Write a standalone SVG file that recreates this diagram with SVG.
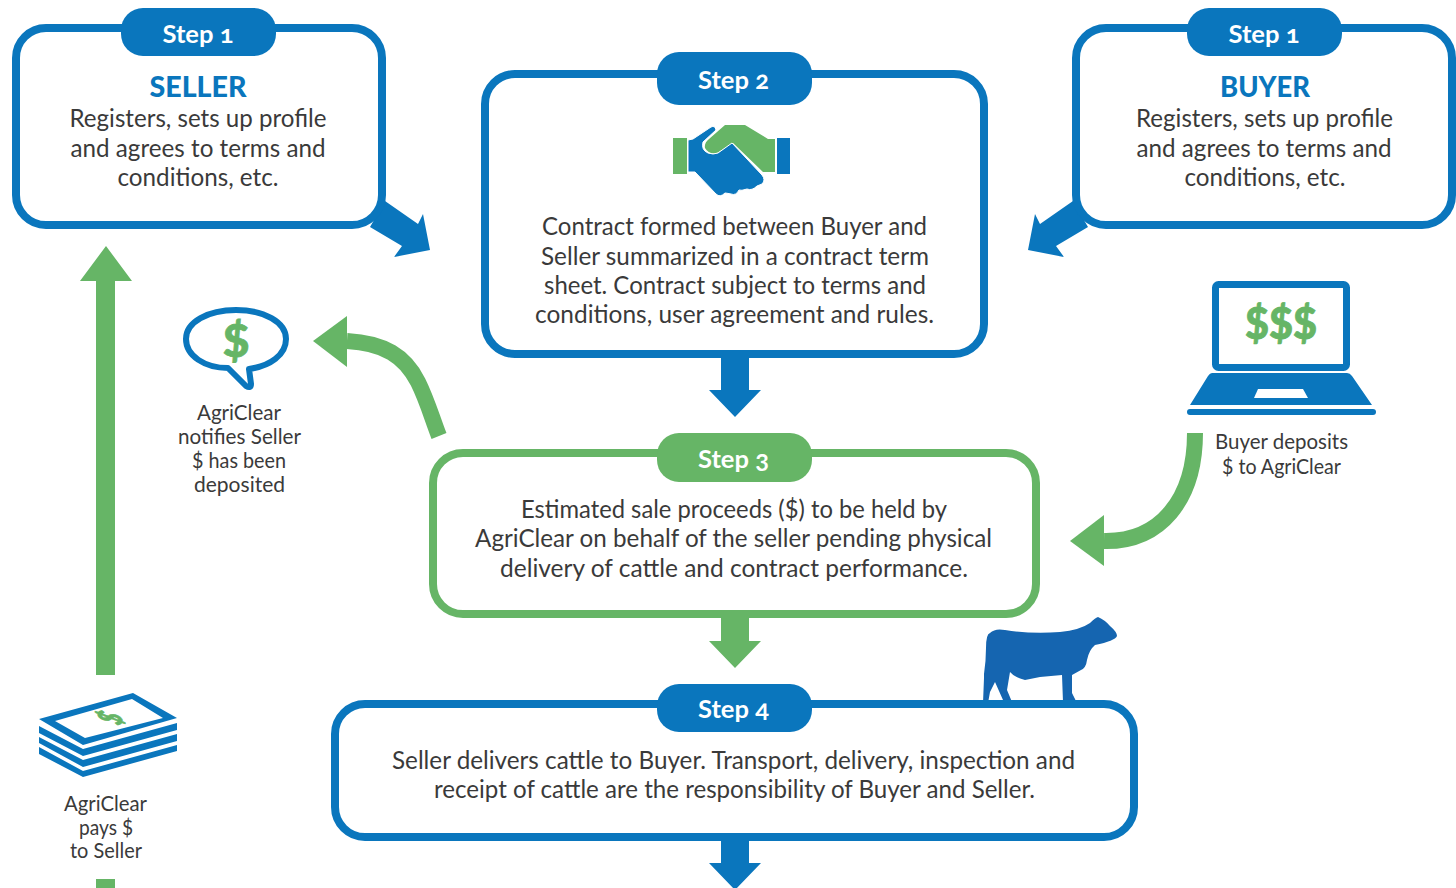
<svg xmlns="http://www.w3.org/2000/svg" width="1456" height="888" viewBox="0 0 1456 888">
<style>
.bb{fill:#fff;stroke:#0a76bd;stroke-width:8}
.gb{fill:#fff;stroke:#66b566;stroke-width:8}
.bf{fill:#0a76bd}
.gf{fill:#66b566}
text{font-family:"Lato","Open Sans","Liberation Sans",sans-serif;text-anchor:middle}
.t{font-size:25px;fill:#3a3a3a}
.s{font-size:21px;fill:#3a3a3a}
.p{font-size:25px;font-weight:700;fill:#fff;font-variant-numeric:oldstyle-nums}
.h{font-size:28px;font-weight:900;fill:#0a76bd}
.d{font-weight:900;fill:#66b566;stroke:#66b566;stroke-width:.8}
</style>
<rect width="1456" height="888" fill="#fff"/>
<g id="connectors">
<polygon class="bf" points="385,201 418,224 423,214 430,250 394,257 402,246 370,227"/>
<polygon class="bf" points="1073,201 1040,224 1035,214 1028,250 1064,257 1056,246 1088,227"/>
<polygon class="bf" points="721,356 749,356 749,390 761,390 735,417 709,390 721,390"/>
<polygon class="gf" points="721,616 749,616 749,641 761,641 735,668 709,641 721,641"/>
<polygon class="bf" points="721,839 749,839 749,863 761,863 735,890 709,863 721,863"/>
<polygon class="gf" points="96,675 115,675 115,281 132,281 106,246 80,281 96,281"/>
<rect class="gf" x="96" y="879" width="19" height="9"/>
<path d="M347 341C384 343 405 356 418 382C427 400 432 418 439 436" fill="none" stroke="#66b566" stroke-width="16"/>
<polygon class="gf" points="313,341 347,316 347,367"/>
<path d="M1195 433C1195 500 1160 542 1104 541" fill="none" stroke="#66b566" stroke-width="16"/>
<polygon class="gf" points="1070,541 1104,515 1104,566"/>
</g>
<g id="seller">
<rect class="bb" x="16" y="28" width="366" height="197" rx="30"/>
<rect class="bf" x="121" y="8" width="155" height="48" rx="22"/>
<text class="p" x="198" y="43" textLength="71" lengthAdjust="spacingAndGlyphs">Step 1</text>
<text class="h" x="198" y="97" textLength="97" lengthAdjust="spacingAndGlyphs">SELLER</text>
<text class="t" x="198" y="127" textLength="257" lengthAdjust="spacingAndGlyphs">Registers, sets up profile</text>
<text class="t" x="198" y="157" textLength="255" lengthAdjust="spacingAndGlyphs">and agrees to terms and</text>
<text class="t" x="198" y="186" textLength="161" lengthAdjust="spacingAndGlyphs">conditions, etc.</text>
</g>
<g id="buyer">
<rect class="bb" x="1076" y="28" width="376" height="197" rx="30"/>
<rect class="bf" x="1187" y="8" width="155" height="48" rx="22"/>
<text class="p" x="1264" y="43" textLength="71" lengthAdjust="spacingAndGlyphs">Step 1</text>
<text class="h" x="1265" y="97" textLength="90" lengthAdjust="spacingAndGlyphs">BUYER</text>
<text class="t" x="1264.500" y="127" textLength="257" lengthAdjust="spacingAndGlyphs">Registers, sets up profile</text>
<text class="t" x="1264" y="157" textLength="255" lengthAdjust="spacingAndGlyphs">and agrees to terms and</text>
<text class="t" x="1265" y="186" textLength="161" lengthAdjust="spacingAndGlyphs">conditions, etc.</text>
</g>
<g id="step2">
<rect class="bb" x="485" y="74" width="499" height="280" rx="30"/>
<rect class="bf" x="657" y="52" width="155" height="53" rx="22"/>
<text class="p" x="733.500" y="89" textLength="71" lengthAdjust="spacingAndGlyphs">Step 2</text>
<rect class="gf" x="673" y="138" width="14" height="36"/>
<rect class="bf" x="777" y="138" width="13" height="36"/>
<path class="gf" d="M725 125L745 125L768 139L775 139L775 172L763 172L733 143L717 153Q709 155 705 148Q704 143 709 139Z"/>
<path class="bf" stroke="#fff" stroke-width="1" stroke-linejoin="round" d="M688 140L693 139L711 127Q715 125 716 130L703 142Q701 150 708 153Q713 155 718 153L732 143L762 175Q766 180 762 184L757 186Q752 191 747 189Q741 191 739 190Q736 196 731 194Q726 193 725 193Q720 198 716 194L695 172L688 172Z"/>
<text class="t" x="734.500" y="235" textLength="385" lengthAdjust="spacingAndGlyphs">Contract formed between Buyer and</text>
<text class="t" x="735" y="265" textLength="388" lengthAdjust="spacingAndGlyphs">Seller summarized in a contract term</text>
<text class="t" x="735" y="294" textLength="382" lengthAdjust="spacingAndGlyphs">sheet. Contract subject to terms and</text>
<text class="t" x="734.500" y="323" textLength="399" lengthAdjust="spacingAndGlyphs">conditions, user agreement and rules.</text>
</g>
<g id="step3">
<rect class="gb" x="433" y="453" width="603" height="161" rx="30"/>
<rect class="gf" x="657" y="433" width="155" height="49" rx="22"/>
<text class="p" x="733.500" y="468" textLength="71" lengthAdjust="spacingAndGlyphs">Step 3</text>
<text class="t" x="734" y="518" textLength="426" lengthAdjust="spacingAndGlyphs">Estimated sale proceeds ($) to be held by</text>
<text class="t" x="733.500" y="547" textLength="517" lengthAdjust="spacingAndGlyphs">AgriClear on behalf of the seller pending physical</text>
<text class="t" x="734" y="577" textLength="468" lengthAdjust="spacingAndGlyphs">delivery of cattle and contract performance.</text>
</g>
<g id="cow">
<path fill="#1565b0" d="M983 703L984 678L984 674Q986 660 986 648Q986 634 990 633Q995 628 1005 630Q1030 634 1060 632Q1080 630 1090 623Q1095 618 1098 617Q1105 620 1110 626Q1117 632 1117 636Q1115 641 1095 645Q1089 650 1087 660Q1086 668 1081 670L1072 675L1072 693L1077 703L1063 702L1062 675L1040 677L1025 680Q1015 678 1010 672L1007 690L1012 702L1003 700L995 682L990 692L988 703Z"/>
</g>
<g id="step4">
<rect class="bb" x="335" y="704" width="799" height="133" rx="30"/>
<rect class="bf" x="657" y="684" width="155" height="48" rx="22"/>
<text class="p" x="733.500" y="718" textLength="71" lengthAdjust="spacingAndGlyphs">Step 4</text>
<text class="t" x="733.500" y="769" textLength="683" lengthAdjust="spacingAndGlyphs">Seller delivers cattle to Buyer. Transport, delivery, inspection and</text>
<text class="t" x="734.500" y="798" textLength="601" lengthAdjust="spacingAndGlyphs">receipt of cattle are the responsibility of Buyer and Seller.</text>
</g>
<g id="laptop">
<rect x="1215.500" y="284.500" width="131" height="83" rx="3" fill="#fff" stroke="#0a76bd" stroke-width="7"/>
<text class="d" x="1281" y="339" font-size="44" textLength="72" lengthAdjust="spacingAndGlyphs">$$$</text>
<path class="bf" d="M1212 373L1347 373Q1350 373 1352 376L1372 405L1190 405L1208 376Q1210 373 1212 373Z"/>
<polygon fill="#fff" points="1258,389 1303,389 1308,398 1254,398"/>
<rect class="bf" x="1187" y="409" width="189" height="6" rx="3"/>
<text class="s" x="1281.500" y="449" textLength="133" lengthAdjust="spacingAndGlyphs">Buyer deposits</text>
<text class="s" x="1281.500" y="474" textLength="119" lengthAdjust="spacingAndGlyphs">$ to AgriClear</text>
</g>
<g id="notify">
<path d="M228 368C205 368 186 356 186 339C186 322 208 310 236 310C264 310 286 322 286 339C286 355 270 366 249 369L251 384Q251 389 246 386Z" fill="#fff" stroke="#0a76bd" stroke-width="6" stroke-linejoin="round"/>
<text class="d" x="236" y="357" font-size="46">$</text>
<text class="s" x="239" y="420" textLength="84" lengthAdjust="spacingAndGlyphs">AgriClear</text>
<text class="s" x="239.500" y="444" textLength="123" lengthAdjust="spacingAndGlyphs">notifies Seller</text>
<text class="s" x="239" y="468" textLength="94" lengthAdjust="spacingAndGlyphs">$ has been</text>
<text class="s" x="239.500" y="492" textLength="91" lengthAdjust="spacingAndGlyphs">deposited</text>
</g>
<g id="money">
<path class="bf" fill-rule="evenodd" d="M39 719L133 693L177 718L83 745ZM55 721L85 738L163 718L132 699Z"/>
<polygon class="bf" points="39,726 83,749 177,723 177,730 83,756 39,733"/>
<polygon class="bf" points="39,737 83,760 177,734 177,741 83,767 39,743"/>
<polygon class="bf" points="39,747 83,771 177,745 177,751 83,777 39,754"/>
<text class="d" font-size="30" transform="translate(111 718) rotate(-72) scale(.6 1.15)" y="10">$</text>
<text class="s" x="105.500" y="811" textLength="83" lengthAdjust="spacingAndGlyphs">AgriClear</text>
<text class="s" x="106" y="835" textLength="54" lengthAdjust="spacingAndGlyphs">pays $</text>
<text class="s" x="106" y="858" textLength="72" lengthAdjust="spacingAndGlyphs">to Seller</text>
</g>
</svg>
